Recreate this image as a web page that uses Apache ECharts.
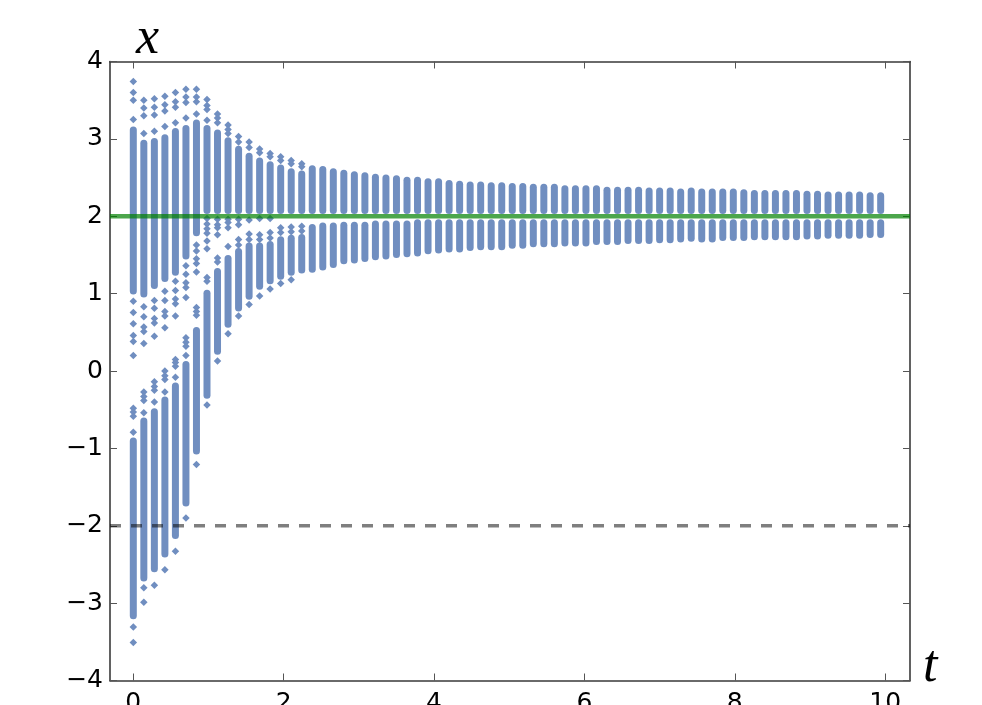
<!DOCTYPE html>
<html>
<head>
<meta charset="utf-8">
<title>x(t)</title>
<script src="https://cdn.jsdelivr.net/npm/echarts@6/dist/echarts.min.js"></script>
<style>
html, body { margin: 0; padding: 0; background: #fff; overflow: hidden; }
#ChartDiv { width: 982px; height: 705px; }
</style>
</head>
<body>
<div id="ChartDiv"></div>
<script>
//time of each column of points
var columnTimes = [
    0.00, 0.14, 0.28, 0.42, 0.56, 0.70, 0.84, 0.98, 1.12, 1.26, 1.40, 1.54,
    1.68, 1.82, 1.96, 2.10, 2.24, 2.38, 2.52, 2.66, 2.80, 2.94, 3.08, 3.22,
    3.36, 3.50, 3.64, 3.78, 3.92, 4.06, 4.20, 4.34, 4.48, 4.62, 4.76, 4.90,
    5.04, 5.18, 5.32, 5.46, 5.60, 5.74, 5.88, 6.02, 6.16, 6.30, 6.44, 6.58,
    6.72, 6.86, 7.00, 7.14, 7.28, 7.42, 7.56, 7.70, 7.84, 7.98, 8.12, 8.26,
    8.40, 8.54, 8.68, 8.82, 8.96, 9.10, 9.24, 9.38, 9.52, 9.66, 9.80, 9.94
];
//solid part of each column above the gap
var upperTop = [
    3.16, 2.99, 3.01, 3.06, 3.14, 3.18, 3.25, 3.18, 3.12, 3.02, 2.91, 2.82,
    2.76, 2.71, 2.67, 2.62, 2.59, 2.66, 2.65, 2.62, 2.60, 2.58, 2.57, 2.55,
    2.54, 2.53, 2.51, 2.51, 2.49, 2.49, 2.47, 2.46, 2.45, 2.45, 2.44, 2.44,
    2.43, 2.43, 2.42, 2.42, 2.42, 2.40, 2.40, 2.40, 2.40, 2.38, 2.38, 2.38,
    2.38, 2.37, 2.37, 2.37, 2.36, 2.37, 2.36, 2.36, 2.36, 2.36, 2.35, 2.34,
    2.34, 2.34, 2.34, 2.34, 2.33, 2.33, 2.32, 2.32, 2.32, 2.32, 2.31, 2.31
];
var upperBottom = [
    0.99, 0.95, 1.06, 1.15, 1.23, 1.44, 1.74, 2.03, 2.03, 2.03, 2.03, 2.03,
    2.03, 2.03, 2.03, 2.03, 2.03, 2.03, 2.03, 2.03, 2.03, 2.03, 2.03, 2.03,
    2.03, 2.03, 2.03, 2.03, 2.03, 2.03, 2.03, 2.03, 2.03, 2.03, 2.03, 2.03,
    2.03, 2.03, 2.03, 2.03, 2.03, 2.03, 2.03, 2.03, 2.03, 2.03, 2.03, 2.03,
    2.03, 2.03, 2.03, 2.03, 2.03, 2.03, 2.03, 2.03, 2.03, 2.03, 2.03, 2.03,
    2.03, 2.03, 2.03, 2.03, 2.03, 2.03, 2.03, 2.03, 2.03, 2.03, 2.03, 2.03
];
//solid part of each column below the gap
var lowerTop = [
    -0.86, -0.60, -0.48, -0.33, -0.15, 0.13, 0.57, 1.05, 1.33, 1.50, 1.59, 1.66,
    1.66, 1.68, 1.74, 1.76, 1.77, 1.90, 1.92, 1.92, 1.93, 1.93, 1.93, 1.945,
    1.945, 1.945, 1.945, 1.96, 1.96, 1.96, 1.96, 1.96, 1.96, 1.96, 1.96, 1.96,
    1.96, 1.96, 1.96, 1.96, 1.96, 1.96, 1.96, 1.96, 1.96, 1.96, 1.96, 1.96,
    1.96, 1.96, 1.96, 1.96, 1.96, 1.96, 1.96, 1.96, 1.96, 1.96, 1.96, 1.96,
    1.96, 1.96, 1.96, 1.96, 1.96, 1.96, 1.96, 1.96, 1.96, 1.96, 1.96, 1.96
];
var lowerBottom = [
    -3.21, -2.72, -2.60, -2.41, -2.17, -1.75, -1.08, -0.36, 0.21, 0.56, 0.77, 0.92,
    1.05, 1.12, 1.18, 1.23, 1.26, 1.27, 1.30, 1.33, 1.38, 1.39, 1.41, 1.43,
    1.44, 1.46, 1.47, 1.48, 1.51, 1.52, 1.53, 1.53, 1.55, 1.56, 1.56, 1.56,
    1.58, 1.58, 1.60, 1.60, 1.60, 1.61, 1.61, 1.61, 1.63, 1.63, 1.63, 1.64,
    1.64, 1.64, 1.65, 1.65, 1.66, 1.67, 1.66, 1.66, 1.68, 1.68, 1.68, 1.69,
    1.69, 1.69, 1.69, 1.69, 1.70, 1.70, 1.71, 1.71, 1.71, 1.71, 1.72, 1.72
];
//separate points outside the solid parts, one list per column (first 17 columns)
var strayValues = [
    [3.74, 3.60, 3.50, 3.25, 0.90, 0.755, 0.61, 0.46, 0.38, 0.20, -0.48, -0.53, -0.585, -0.79, -3.31, -3.51],
    [3.50, 3.40, 3.30, 3.07, 0.83, 0.70, 0.57, 0.51, 0.355, -0.27, -0.33, -0.38, -0.54, -2.80, -2.99],
    [3.52, 3.41, 3.31, 3.10, 0.91, 0.81, 0.68, 0.62, 0.45, -0.14, -0.20, -0.25, -0.40, -2.77],
    [3.55, 3.44, 3.36, 3.16, 1.03, 0.91, 0.77, 0.71, 0.56, 0.00, -0.06, -0.11, -0.27, -2.57],
    [3.60, 3.48, 3.41, 3.21, 1.16, 1.04, 0.93, 0.87, 0.71, 0.15, 0.11, 0.06, -0.08, -2.33],
    [3.64, 3.54, 3.47, 3.27, 1.36, 1.25, 1.14, 1.08, 0.95, 0.43, 0.37, 0.32, 0.20, -1.90],
    [3.64, 3.54, 3.48, 3.32, 1.63, 1.55, 1.45, 1.39, 1.28, 0.82, 0.77, 0.72, -1.21],
    [3.51, 3.43, 3.38, 3.24, 1.97, 1.90, 1.84, 1.78, 1.68, 1.58, 1.21, 1.16, -0.44],
    [3.32, 3.27, 3.21, 1.96, 1.89, 1.85, 1.76, 1.46, 1.41, 0.13],
    [3.18, 3.12, 3.07, 1.96, 1.92, 1.85, 1.61, 0.48],
    [3.03, 2.96, 1.96, 1.89, 1.70, 1.63, 0.71],
    [2.96, 2.89, 1.95, 1.77, 1.70, 0.86],
    [2.87, 2.82, 1.97, 1.76, 1.70, 0.97],
    [2.81, 2.77, 1.97, 1.79, 1.72, 1.06],
    [2.77, 2.72, 1.85, 1.79, 1.13],
    [2.72, 2.68, 1.86, 1.80, 1.18],
    [2.68, 2.64, 1.87, 1.81]
];
//reference lines
var greenLevel = [2];
var dashedLevel = [-2];
//ticks
var xTickValues = [0, 2, 4, 6, 8, 10];
var yTickValues = [-4, -3, -2, -1, 0, 1, 2, 3, 4];

var xMin = -0.31;
var xMax = 10.33;
var pointColor = '#708ec0';
var spineColor = '#3a3a3a';
var tickColor = '#555';
var capRadius = 3.5;

InitChart();

function InitChart() {
    var chart = echarts.init(document.getElementById('ChartDiv'), null, { renderer: 'canvas' });
    chart.setOption(GetOption());
}

//solid parts as [time, high, low]
function GetBandData() {
    var list = [];
    for (var i = 0; i < columnTimes.length; i++) {
        list.push([columnTimes[i], upperTop[i], upperBottom[i]]);
        list.push([columnTimes[i], lowerTop[i], lowerBottom[i]]);
    }
    return list;
}

function GetStrayData() {
    var list = [];
    for (var i = 0; i < strayValues.length; i++) {
        for (var j = 0; j < strayValues[i].length; j++) {
            list.push([columnTimes[i], strayValues[i][j]]);
        }
    }
    return list;
}

function RenderBand(params, api) {
    var high = api.coord([api.value(0), api.value(1)]);
    var low = api.coord([api.value(0), api.value(2)]);
    return {
        type: 'line',
        shape: { x1: high[0], y1: high[1] + capRadius, x2: low[0], y2: low[1] - capRadius },
        style: { stroke: pointColor, lineWidth: capRadius * 2, lineCap: 'round' }
    };
}

function GetHorizontalLine(level, color, width, lineType) {
    return {
        type: 'line',
        xAxisIndex: 0,
        yAxisIndex: 0,
        showSymbol: false,
        silent: true,
        data: [[xMin, level], [xMax, level]],
        lineStyle: { color: color, width: width, type: lineType, cap: 'butt' },
        z: 5
    };
}

function GetXAxis(position, showLabel) {
    return {
        type: 'value',
        position: position,
        min: xMin,
        max: xMax,
        splitLine: { show: false },
        axisLine: { show: true, onZero: false, lineStyle: { color: spineColor, width: 1.6 } },
        axisTick: { show: true, inside: true, length: 7, customValues: xTickValues, lineStyle: { color: tickColor, width: 1 } },
        axisLabel: {
            show: showLabel,
            customValues: xTickValues,
            margin: 10,
            color: '#000',
            fontFamily: 'DejaVu Sans',
            fontSize: 25
        }
    };
}

function GetYAxis(position, showLabel) {
    return {
        type: 'value',
        position: position,
        min: -4,
        max: 4,
        interval: 1,
        splitLine: { show: false },
        axisLine: { show: true, onZero: false, lineStyle: { color: spineColor, width: 1.6 } },
        axisTick: { show: true, inside: true, length: 7, lineStyle: { color: tickColor, width: 1 } },
        axisLabel: {
            show: showLabel,
            customValues: yTickValues,
            margin: 7,
            color: '#000',
            fontFamily: 'DejaVu Sans',
            fontSize: 25,
            padding: [0, 0, 8, 0],
            formatter: function (value) {
                return String(value).replace('-', '\u2212');
            }
        }
    };
}

function GetOption() {
    return {
        animation: false,
        backgroundColor: '#fff',
        grid: { left: 110, right: 72, top: 61.5, bottom: 24.5, outerBoundsMode: 'none' },
        xAxis: [GetXAxis('bottom', true), GetXAxis('top', false)],
        yAxis: [GetYAxis('left', true), GetYAxis('right', false)],
        graphic: [
            { type: 'text', left: 136, top: 13, style: { text: 'x', fill: '#000', font: 'italic 52px "Liberation Serif"' } },
            { type: 'text', left: 923, top: 641, style: { text: 't', fill: '#000', font: 'italic 52px "Liberation Serif"' } }
        ],
        series: [
            {
                type: 'custom',
                xAxisIndex: 0,
                yAxisIndex: 0,
                silent: true,
                renderItem: RenderBand,
                encode: { x: 0, y: [1, 2] },
                data: GetBandData(),
                z: 2
            },
            {
                type: 'scatter',
                xAxisIndex: 0,
                yAxisIndex: 0,
                silent: true,
                symbol: 'diamond',
                symbolSize: 7.5,
                itemStyle: { color: pointColor, opacity: 1 },
                data: GetStrayData(),
                z: 2
            },
            GetHorizontalLine(greenLevel[0], 'rgba(0,128,0,0.7)', 4.5, 'solid'),
            GetHorizontalLine(dashedLevel[0], 'rgba(0,0,0,0.5)', 3.5, [11, 10])
        ]
    };
}
</script>
</body>
</html>
